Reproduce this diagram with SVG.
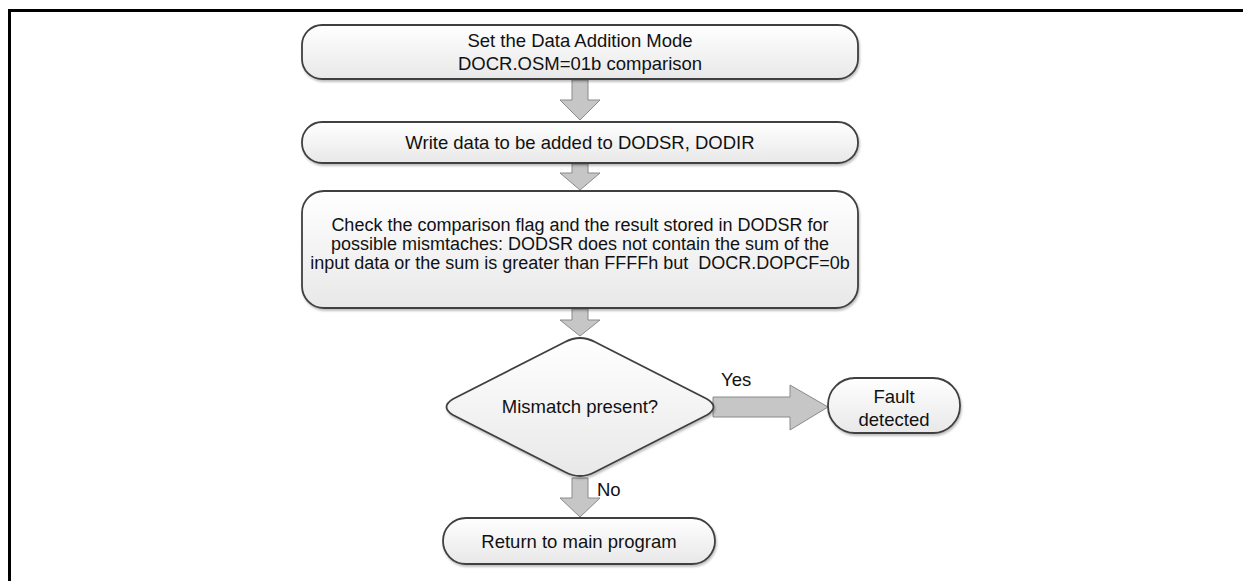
<svg xmlns="http://www.w3.org/2000/svg" width="1243" height="581" viewBox="0 0 1243 581">
<defs>
<linearGradient id="g" x1="0" y1="0" x2="0" y2="1">
<stop offset="0" stop-color="#ffffff"/>
<stop offset="1" stop-color="#e8e8e8"/>
</linearGradient>
<filter id="sh" x="-5%" y="-5%" width="110%" height="120%">
<feDropShadow dx="1" dy="2" stdDeviation="1.2" flood-color="#000" flood-opacity="0.25"/>
</filter>
</defs>
<style>
.n{fill:url(#g);stroke:#404040;stroke-width:1.8;filter:url(#sh)}
.a{fill:#c6c6c6;stroke:#8a8a8a;stroke-width:1}
text{font-family:"Liberation Sans",Arial,sans-serif;font-size:18.5px;fill:#111;text-anchor:middle}
.l{text-anchor:start}
.s{font-size:18px}
</style>
<rect x="9.5" y="10.5" width="1300" height="700" fill="none" stroke="#000" stroke-width="3"/>
<g id="connectors">
<path class="a" d="M572,80 H588 V100 H600 L580,120 L560,100 H572 Z"/>
<path class="a" d="M572,164 H588 V173 H600 L580,190 L560,173 H572 Z"/>
<path class="a" d="M572,309 H588 V320 H600 L580,336 L560,320 H572 Z"/>
<path class="a" d="M572,478 H588 V498 H600 L580,517 L560,498 H572 Z"/>
<path class="a" d="M713,397 H790 V385 L828,407 L790,430 V417 H713 Z"/>
<text class="l" x="721" y="386">Yes</text>
<text class="l" x="597" y="496">No</text>
</g>
<g id="n1">
<rect class="n" x="302" y="25" width="556" height="54" rx="20"/>
<text x="580" y="47">Set the Data Addition Mode</text>
<text x="580" y="70">DOCR.OSM=01b comparison</text>
</g>
<g id="n2">
<rect class="n" x="302" y="122" width="556" height="41" rx="20"/>
<text x="580" y="149">Write data to be added to DODSR, DODIR</text>
</g>
<g id="n3">
<rect class="n" x="302" y="191" width="556" height="117" rx="22"/>
<text class="s" x="580" y="231">Check the comparison flag and the result stored in DODSR for</text>
<text class="s" x="580" y="250">possible mismtaches: DODSR does not contain the sum of the</text>
<text class="s" x="580" y="269" xml:space="preserve">input data or the sum is greater than FFFFh but  DOCR.DOPCF=0b</text>
</g>
<g id="n4">
<path class="n" d="M565,342 Q580,334 595,342 L707,399 Q720,407 707,415 L595,472 Q580,480 565,472 L453,415 Q440,407 453,399 Z"/>
<text x="580" y="413">Mismatch present?</text>
</g>
<g id="n5">
<rect class="n" x="828" y="378" width="132" height="55" rx="27"/>
<text x="894" y="403">Fault</text>
<text x="894" y="426">detected</text>
</g>
<g id="n6">
<rect class="n" x="443" y="518" width="272" height="46" rx="23"/>
<text x="579" y="548">Return to main program</text>
</g>
</svg>
